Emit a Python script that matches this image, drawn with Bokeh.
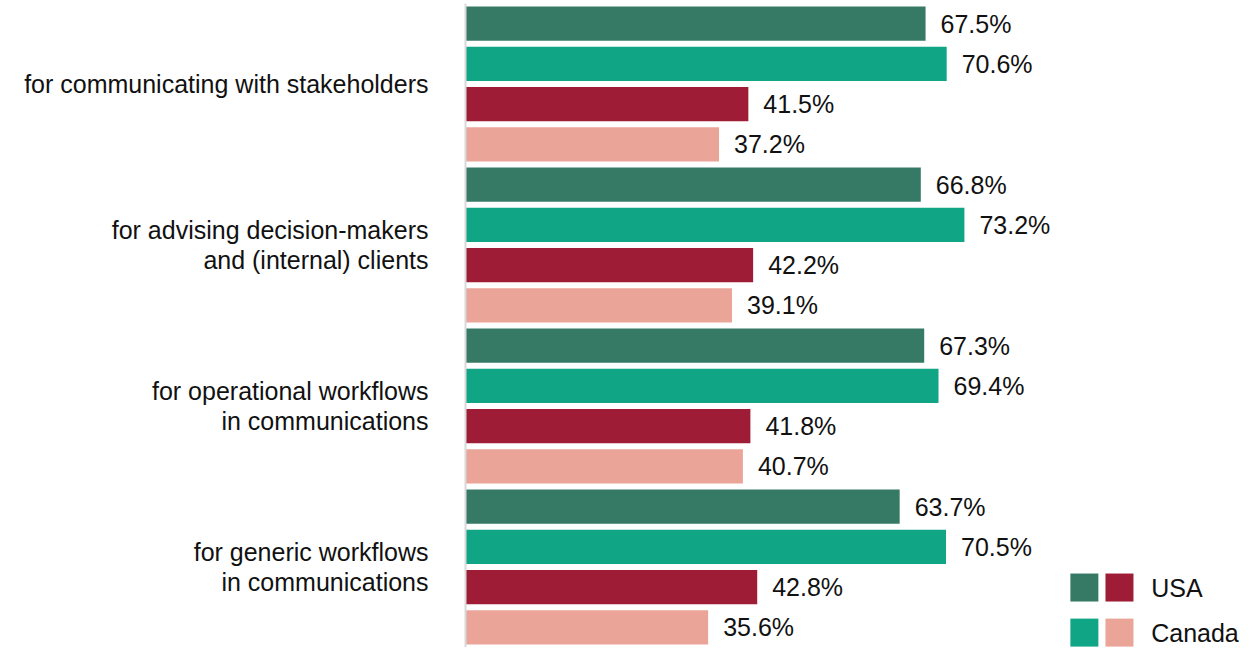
from bokeh.plotting import figure
from bokeh.models import Range1d, FixedTicker
from bokeh.embed import file_html
from bokeh.resources import INLINE
from bokeh.core.properties import value

# ---- data ----
categories = [
    "for communicating with stakeholders",
    "for advising decision-makers\nand (internal) clients",
    "for operational workflows\nin communications",
    "for generic workflows\nin communications",
]
usa_1 = [67.5, 66.8, 67.3, 63.7]
canada_1 = [70.6, 73.2, 69.4, 70.5]
usa_2 = [41.5, 42.2, 41.8, 42.8]
canada_2 = [37.2, 39.1, 40.7, 35.6]
legend_labels = ["USA", "Canada"]

# ---- styling ----
FONT = "Liberation Sans"
FS = "25px"
TXT = "#111111"
c_usa_1, c_can_1, c_usa_2, c_can_2 = "#367a66", "#10a585", "#9e1c35", "#eba598"

series = [usa_1, canada_1, usa_2, canada_2]
series_colors = [c_usa_1, c_can_1, c_usa_2, c_can_2]

n = len(categories)
k = len(series)

p = figure(
    frame_width=777, frame_height=644,
    x_range=Range1d(0, 114), y_range=Range1d(n * k, 0),
    output_backend="svg", toolbar_location=None,
    min_border_left=465, min_border_right=0, min_border_top=3, min_border_bottom=0,
)
p.outline_line_color = None
p.xgrid.visible = False
p.ygrid.visible = False
p.xaxis.visible = False

for s, (vals, col) in enumerate(zip(series, series_colors)):
    ys = [g * k + s + 0.5 for g in range(n)]
    p.hbar(y=ys, left=0, right=vals, height=0.85, color=col, line_color=None)
    p.text(x=vals, y=ys, text=[f"{v:.1f}%" for v in vals], x_offset=15,
           text_baseline="middle", text_align="left",
           text_font=value(FONT), text_font_size=FS, text_color=TXT)

ticks = [g * k + k // 2 for g in range(n)]
p.yaxis.ticker = FixedTicker(ticks=ticks)
p.yaxis.major_label_overrides = {t: c for t, c in zip(ticks, categories)}
p.yaxis.axis_line_color = "#d9d9d9"
p.yaxis.axis_line_width = 2
p.yaxis.major_tick_line_color = None
p.yaxis.minor_tick_line_color = None
p.yaxis.major_label_standoff = 31
p.yaxis.major_label_text_font = FONT
p.yaxis.major_label_text_font_size = FS
p.yaxis.major_label_text_color = TXT
p.yaxis.major_label_text_line_height = 1.08

# ---- legend (two swatches per row) ----
leg_y = [14.51, 15.63]
pairs = [(c_usa_1, c_usa_2), (c_can_1, c_can_2)]
for yy, (ca, cb), lab in zip(leg_y, pairs, legend_labels):
    p.rect(x=[90.8], y=[yy], width=28, height=28, width_units="screen",
           height_units="screen", color=ca, line_color=None)
    p.rect(x=[95.95], y=[yy], width=28, height=28, width_units="screen",
           height_units="screen", color=cb, line_color=None)
    p.text(x=[100.6], y=[yy], text=[lab], text_baseline="middle", text_align="left",
           text_font=value(FONT), text_font_size=FS, text_color=TXT)

open("out.html", "w").write(file_html(p, INLINE))
